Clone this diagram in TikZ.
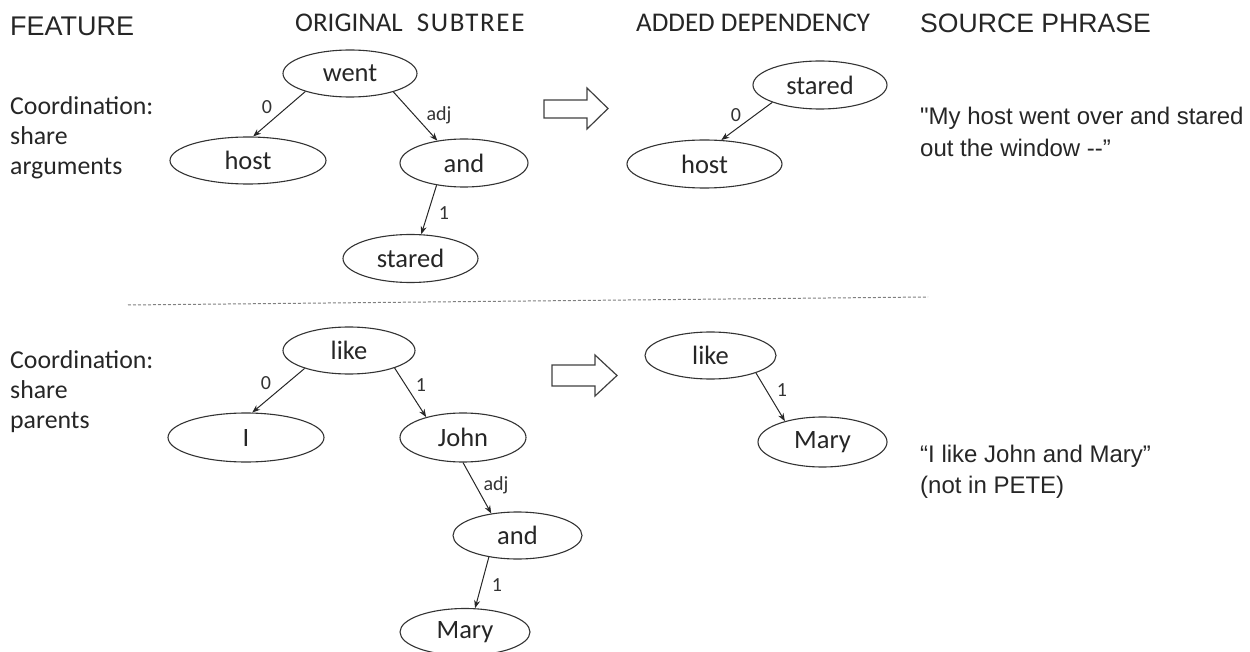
\documentclass[tikz,border=0pt]{standalone}
\usepackage{fontspec}
\newfontfamily\carlito{Carlito}
\newfontfamily\arialf{Liberation Sans}
\usetikzlibrary{shapes.geometric,arrows.meta}
\begin{document}
\begin{tikzpicture}[x=1pt,y=-1pt,
  word/.style={ellipse,draw=black!80,line width=1.1pt,inner sep=0pt,
    font=\carlito\fontsize{26.5}{30}\selectfont,text=black!85},
  sz/.style 2 args={minimum width=#1pt,minimum height=#2pt},
  dep/.style={draw=black!85,line width=1pt,-{Stealth[length=8pt,width=6pt]}},
  elab/.style={font=\carlito\fontsize{20}{22}\selectfont,text=black!80,inner sep=0pt},
  hdrA/.style={font=\arialf\fontsize{27}{30}\selectfont,text=black!85,inner sep=0pt,anchor=base west},
  hdrC/.style={font=\carlito\fontsize{27}{30}\selectfont,text=black!85,inner sep=0pt,anchor=base west},
  featxt/.style={font=\carlito\fontsize{25.8}{30}\selectfont,text=black!85,inner sep=0pt,anchor=base west},
  quote/.style={font=\arialf\fontsize{24}{30}\selectfont,text=black!85,inner sep=0pt,anchor=base west},
  blockarrow/.style={draw=black!75,fill=white,line width=1.2pt,line join=miter},
  sep/.style={draw=black!50,line width=1pt,dash pattern=on 3pt off 2pt}
]
\useasboundingbox (0,0) rectangle (1250,652);

% headers
\node[hdrA] (hfeat) at (10,36) {FEATURE};
\node[hdrC] (horig) at (295,32) {ORIGINAL\hspace{14pt}{\addfontfeatures{LetterSpace=6}SUBTREE}};
\node[hdrC] (hadd) at (636,32) {ADDED DEPENDENCY};
\node[hdrA,font=\arialf\fontsize{26.6}{30}\selectfont] (hsrc) at (920,33) {SOURCE PHRASE};

% feature descriptions
\node[featxt] (f1a) at (10,115) {Coordination:};
\node[featxt] (f1b) at (10,145) {share};
\node[featxt] (f1c) at (10,175) {arguments};
\node[featxt] (f2a) at (10,368) {Coordination:};
\node[featxt] (f2b) at (10,398) {share};
\node[featxt] (f2c) at (10,428) {parents};

% top original subtree
\node[word,sz={134}{47}] (went) at (350,73.5) {went};
\node[word,sz={156}{47}] (host) at (248,160.5) {host};
\node[word,sz={128}{48}] (and) at (464,163) {and};
\node[word,sz={135}{48}] (stared) at (410.5,258.5) {stared};
\draw[dep] (went.202) -- (host.78.5);
\draw[dep] (went.337.4) -- (and.140.4);
\draw[dep] (and.219.6) -- (stared.66.1);
\node[elab] (l1) at (267,107) {0};
\node[elab] (l2) at (439,115) {adj};
\node[elab] (l3) at (444,213) {1};

% top block arrow
\draw[blockarrow] (544,100) -- (587,100) -- (587,88) -- (608,108.5) -- (587,129) -- (587,118) -- (544,118) -- cycle;

% top added dependency
\node[word,sz={134}{48}] (stared2) at (820,85) {stared};
\node[word,sz={155}{48}] (host2) at (704.5,164) {host};
\draw[dep] (stared2.200.6) -- (host2.55.6);
\node[elab] (l4) at (736,115) {0};

% top source phrase
\node[quote] (q1a) at (920,125) {"My host went over and stared};
\node[quote] (q1b) at (920,157) {out the window -{}-”};

% separator
\coordinate (sepl) at (128,305);
\coordinate (sepr) at (928,297);
\draw[sep] (sepl) -- (sepr);

% bottom original subtree
\node[word,sz={132}{47}] (like) at (349,350.5) {like};
\node[word,sz={156}{49}] (I) at (246,437.5) {I};
\node[word,sz={126}{49}] (john) at (463,437.5) {John};
\node[word,sz={129}{47}] (and2) at (517.5,535.5) {and};
\node[word,sz={130}{47}] (mary) at (465,632) {Mary};
\draw[dep] (like.202.5) -- (I.76);
\draw[dep] (like.339.6) -- (john.151);
\draw[dep] (john.270) -- (and2.140.4);
\draw[dep] (and2.217) -- (mary.67.8);
\node[elab] (l5) at (266,383) {0};
\node[elab] (l6) at (421,385) {1};
\node[elab] (l7) at (496,485) {adj};
\node[elab] (l8) at (497,585) {1};

% bottom block arrow
\draw[blockarrow] (552,365) -- (595,365) -- (595,355) -- (617,375.5) -- (595,396) -- (595,386) -- (552,386) -- cycle;

% bottom added dependency
\node[word,sz={131}{47}] (like2) at (710.5,355.5) {like};
\node[word,sz={129}{50}] (mary2) at (822.5,442) {Mary};
\draw[dep] (like2.339) -- (mary2.151.5);
\node[elab] (l9) at (782,390) {1};

% bottom source phrase
\node[quote] (q2a) at (920,462) {“I like John and Mary”};
\node[quote] (q2b) at (920,493) {(not in PETE)};
\end{tikzpicture}
\end{document}
